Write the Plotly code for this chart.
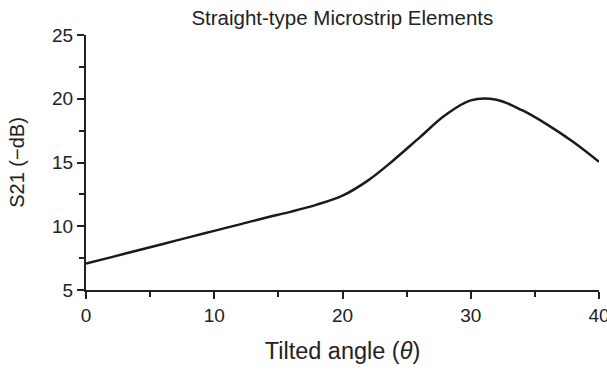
import plotly.graph_objects as go

angle = [0, 2, 4, 6, 8, 10, 12, 14, 16, 18, 20, 22, 24, 26, 28, 30, 32, 34, 36, 38, 40]
s21 = [7.07, 7.58, 8.1, 8.61, 9.13, 9.64, 10.15, 10.67, 11.15, 11.7, 12.4, 13.6, 15.2,
       16.95, 18.7, 19.87, 19.92, 19.1, 17.95, 16.6, 15.05]

x_ticks = [0, 10, 20, 30, 40]
x_minor = [5, 15, 25, 35]
y_ticks = [5, 10, 15, 20, 25]
y_minor = [7.5, 12.5, 17.5, 22.5]

fig = go.Figure()
fig.add_trace(go.Scatter(x=angle, y=s21, mode="lines",
                         line=dict(color="#1a1a1a", width=2.5, shape="spline", smoothing=1.0),
                         showlegend=False, hoverinfo="skip", cliponaxis=False))

font = "Liberation Sans, Arial, sans-serif"
ink = "#222"
fig.update_layout(
    width=607, height=370,
    margin=dict(l=86, r=8, t=35, b=80, autoexpand=False),
    paper_bgcolor="white", plot_bgcolor="white",
    title=dict(text="Straight-type Microstrip Elements", x=0.564, xanchor="center",
               y=0.952, yanchor="middle", font=dict(family=font, size=20.5, color=ink)),
    font=dict(family=font, color=ink),
)
fig.update_xaxes(range=[0, 40], tickvals=x_ticks, ticks="outside", ticklen=7, tickwidth=2,
                 tickcolor=ink, showline=True, linecolor=ink, linewidth=2,
                 showgrid=False, zeroline=False, tickfont=dict(size=19),
                 ticklabeloverflow="allow", automargin=False,
                 minor=dict(tickvals=x_minor, ticks="outside", ticklen=5, tickcolor=ink, tickwidth=2),
                 title=dict(text="Tilted angle (<i>θ</i>)", font=dict(size=23.5), standoff=18))
fig.update_yaxes(range=[5, 25], tickvals=y_ticks, ticks="outside", ticklen=7, tickwidth=2,
                 tickcolor=ink, showline=True, linecolor=ink, linewidth=2,
                 showgrid=False, zeroline=False, tickfont=dict(size=19), automargin=False,
                 minor=dict(tickvals=y_minor, ticks="outside", ticklen=5, tickcolor=ink, tickwidth=2),
                 title=dict(text="S21 (−dB)", font=dict(size=20), standoff=22))

fig.write_html("out.html",
               config={"displayModeBar": False, "staticPlot": True},
               post_script="document.body.style.margin='0';document.body.style.overflow='hidden';")
